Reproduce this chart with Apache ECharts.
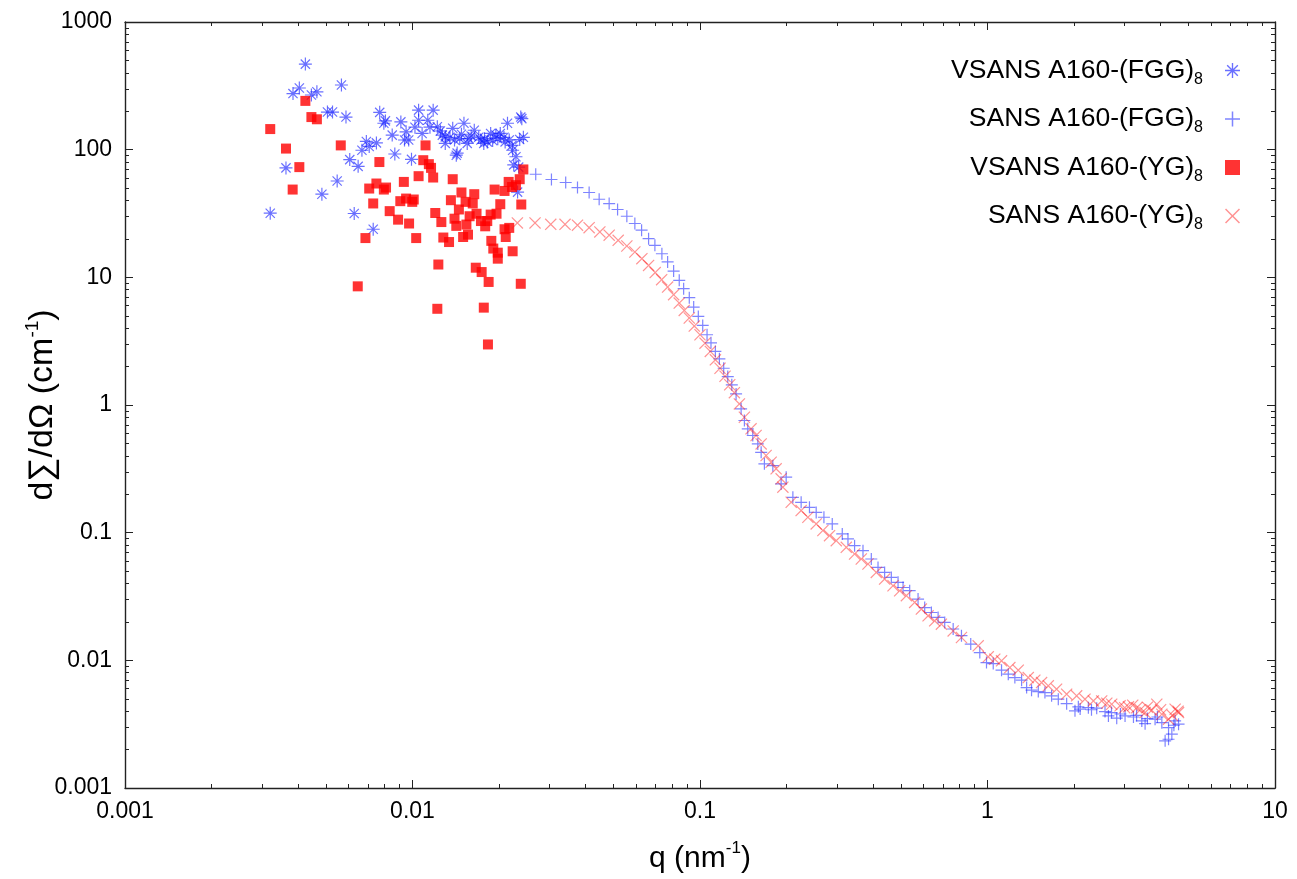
<!DOCTYPE html>
<html><head><meta charset="utf-8">
<script src="https://cdn.jsdelivr.net/npm/echarts@6/dist/echarts.min.js"></script>
<style>html,body{margin:0;padding:0;background:#fff}#c{width:1297px;height:879px}</style>
</head><body><div id="c"></div>
<script>
// ---- tick values ----
const xMajorTicks = [0.001, 0.01, 0.1, 1, 10];
const xMinorTicks = [0.002,0.003,0.004,0.005,0.006,0.007,0.008,0.009,
  0.02,0.03,0.04,0.05,0.06,0.07,0.08,0.09,
  0.2,0.3,0.4,0.5,0.6,0.7,0.8,0.9,
  2,3,4,5,6,7,8,9];
const yMajorTicks = [0.001, 0.01, 0.1, 1, 10, 100, 1000];
const yMinorTicks = [0.002,0.003,0.004,0.005,0.006,0.007,0.008,0.009,
  0.02,0.03,0.04,0.05,0.06,0.07,0.08,0.09,
  0.2,0.3,0.4,0.5,0.6,0.7,0.8,0.9,
  2,3,4,5,6,7,8,9,
  20,30,40,50,60,70,80,90,
  200,300,400,500,600,700,800,900];

// ---- series data ----
const vsansFggQ = [0.00424,0.00384,0.00404,0.00445,0.00465,0.00566,0.00506,0.00527,0.00587,0.00363,
  0.00320,0.00484,0.00547,0.00605,0.00647,0.00627,0.00730,0.00667,0.00691,0.00707,
  0.00749,0.00769,0.00805,0.00795,0.00868,0.0085,0.00911,0.00938,0.0097,0.0095,
  0.00992,0.0102,0.0105,0.0108,0.0113,0.0118,0.0122,0.0127,0.0130,0.0138,
  0.0142,0.0146,0.0151,0.0157,0.0164,0.0173,0.0177,0.0182,0.0187,0.0195,
  0.0202,0.0214,0.0217,0.0223,0.0229,0.0225,0.0238,0.0243,0.0232,0.0234,
  0.0130,0.0140,0.0143,0.0105,0.0115,0.0125,0.0135,0.0148,0.0155,0.0160,
  0.0170,0.0178,0.0190,0.0198,0.0208,0.0210,0.0222,0.0240,0.0236];
const vsansFggI = [468,275,304,268,284,321,197,197,180,72,
  31.8,44.8,56.8,83.6,74,31.6,23.8,99,116,106,
  113,196,168,161,92.5,130,165,119,119,138,
  84,150,204,134,170,204,151,130,112,147,
  90.5,122,161,122,142,119,112,115,134,130,
  134,161,119,99,88,76,180,125,46.5,73,
  126,119,94,170,150,140,125,132,112,128,
  125,122,118,122,125,115,108,175,120];

const sansFggQ = [0.02683,0.03043,0.03411,0.03749,0.04115,0.04459,0.04831,0.05168,0.05566,0.05935,
  0.06264,0.06625,0.06968,0.0737,0.07716,0.08096,0.08468,0.08772,0.09177,0.09506,
  0.09865,0.1022,0.1058,0.1092,0.1131,0.1168,0.1209,0.1249,0.1290,0.1335,
  0.1390,0.1427,0.1466,0.1526,0.1589,0.1632,0.1675,0.1792,0.1915,0.1994,
  0.2104,0.2248,0.2403,0.2536,0.2698,0.2884,0.3125,0.3271,0.3449,0.3689,
  0.3943,0.4161,0.4387,0.4629,0.4885,0.5085,0.5362,0.5734,0.6047,0.6380,
  0.6733,0.7099,0.7596,0.8118,0.8744,0.9402,0.992,1.047,1.119,1.181,
  1.245,1.314,1.368,1.423,1.502,1.584,1.671,1.763,1.885,2.015,
  2.070,2.243,2.398,2.563,2.634,2.815,3.009,3.219,3.441,3.533,
  3.827,4.040,4.263,4.377,4.263,4.148,4.494,4.619,
  2.1,2.3,2.7,2.9,3.3,3.6,3.9,4.45];
const sansFggI = [64.2,58.4,55.3,50.5,46.2,40.9,37.8,34.0,30.1,26.4,
  23.4,20.1,17.8,15.3,13.2,11.2,9.47,8.15,6.93,5.85,
  4.94,4.20,3.55,3.07,2.63,2.30,1.94,1.67,1.44,1.22,
  0.934,0.756,0.651,0.577,0.496,0.426,0.346,0.335,0.241,0.272,
  0.189,0.173,0.158,0.144,0.132,0.117,0.0977,0.0893,0.0791,0.0723,
  0.0622,0.0534,0.0488,0.0446,0.0408,0.0372,0.0351,0.0302,0.0259,0.0237,
  0.0217,0.0198,0.0176,0.0156,0.0134,0.0115,0.00961,0.00944,0.00838,0.00779,
  0.00733,0.00699,0.00612,0.00584,0.00569,0.00559,0.00527,0.00496,0.00458,0.00402,
  0.00432,0.00426,0.00422,0.00397,0.00367,0.00352,0.00367,0.00360,0.00335,0.00319,
  0.00346,0.00325,0.00297,0.00264,0.00241,0.00234,0.00335,0.00316,
  0.00415,0.0041,0.0039,0.0038,0.0037,0.0035,0.0036,0.0031];

const vsansYgQ = [0.00424,0.00445,0.00465,0.0032,0.00363,0.00404,0.00383,0.00563,0.00767,0.00645,
  0.00686,0.00707,0.00749,0.00795,0.00809,0.0073,0.00833,0.00891,0.00973,0.0103,
  0.00933,0.00907,0.0095,0.00998,0.0101,0.0105,0.0111,0.0109,0.0114,0.0116,
  0.0118,0.0120,0.0126,0.0128,0.0134,0.0123,0.0122,0.0138,0.0136,0.0148,
  0.0145,0.0140,0.0142,0.0153,0.0162,0.0164,0.0158,0.0154,0.0167,0.0173,
  0.0179,0.0182,0.0150,0.0156,0.0166,0.0174,0.0184,0.0177,0.0183,0.0188,
  0.0191,0.0198,0.0198,0.0187,0.0196,0.0202,0.0193,0.0209,0.0216,0.0222,
  0.0229,0.0236,0.0243,0.0209,0.0217,0.0211,0.0223,0.0239,0.0238];
const vsansYgI = [241,180,173,145,102,73,48.7,108,80,8.5,
  20.3,49.6,54.3,48.7,50.5,37.9,33,28.3,26.4,20.3,
  55.9,39.5,41.4,39,40.7,62,108,82.7,77,72,
  60.5,31.9,27.1,20.5,18.9,12.6,5.67,58.7,40.2,46.2,
  34,28.8,25.3,39,37.9,44.8,30.1,25.9,31.5,27.6,
  25.1,27.6,20.7,21.6,11.9,11.0,9.2,5.79,2.98,19.3,
  16.8,15.6,14.0,31,31.5,37.4,48.7,47.5,55.9,51,
  52.7,58.7,70,23.8,24.4,20.7,16.0,37.2,8.9];

const sansYgQ = [0.02316,0.02668,0.03026,0.03393,0.03749,0.04115,0.04484,0.04831,0.05193,0.05566,
  0.05935,0.06279,0.06625,0.06985,0.07355,0.07716,0.08096,0.08468,0.08814,0.09177,
  0.09552,0.1000,0.1041,0.1086,0.1131,0.1174,0.1222,0.1269,0.1317,0.1371,
  0.1427,0.1505,0.1567,0.1632,0.1698,0.1768,0.1840,0.1915,0.1942,0.2076,
  0.2248,0.2373,0.2536,0.2676,0.2822,0.2978,0.3227,0.3449,0.3639,0.3840,
  0.4104,0.4387,0.4693,0.4949,0.5222,0.5581,0.5888,0.6214,0.6552,0.6913,
  0.7596,0.8118,0.9282,1.006,1.060,1.119,1.196,1.279,1.386,1.461,
  1.542,1.627,1.739,1.885,2.042,2.183,2.335,2.496,2.704,2.891,
  3.092,3.305,3.533,3.727,3.880,4.040,4.263,4.494,4.619,
  2.6,3.0,3.2,3.4,3.6,4.0,4.4,4.6];
const sansYgI = [26.7,26.7,26.0,26.0,25.6,24.5,22.7,21.4,19.5,17.6,
  15.8,14.0,12.4,10.9,9.59,8.39,7.32,6.29,5.51,4.80,
  4.15,3.55,3.05,2.63,2.26,1.94,1.68,1.44,1.25,1.02,
  0.802,0.651,0.577,0.496,0.402,0.356,0.316,0.264,0.227,0.173,
  0.149,0.132,0.117,0.104,0.0947,0.0866,0.0767,0.0681,0.0622,0.0568,
  0.0488,0.0433,0.0384,0.0351,0.0321,0.0284,0.0252,0.0223,0.0204,0.0192,
  0.0170,0.0151,0.0130,0.01065,0.01022,0.00991,0.00878,0.00838,0.00733,0.00699,
  0.00670,0.00631,0.00594,0.00543,0.00527,0.00496,0.00481,0.00481,0.00453,0.00440,
  0.00432,0.00426,0.00390,0.00407,0.00453,0.00378,0.00346,0.00414,0.00390,
  0.00462,0.00425,0.00445,0.0041,0.0043,0.0041,0.0037,0.0040];

const seriesNames = ['VSANS A160-(FGG)', 'SANS A160-(FGG)', 'VSANS A160-(YG)', 'SANS A160-(YG)'];
const seriesSub = '8';

function zip(a, b) { return a.map((v, i) => [v, b[i]]); }

const FONT = 'Liberation Sans, Arial, sans-serif';
const PLUS = 'path://M9.0,0H11.0V9.0H20V11.0H11.0V20H9.0V11.0H0V9.0H9.0Z';
const CROSS = 'path://M1.4,0L10,8.6L18.6,0L20,1.4L11.4,10L20,18.6L18.6,20L10,11.4L1.4,20L0,18.6L8.6,10L0,1.4Z';
const STAR = 'path://M0,9.1H20V10.9H0Z M9.1,0H10.9V20H9.1Z M3.54,2.26L17.74,16.46L16.46,17.74L2.26,3.54Z M16.46,2.26L17.74,3.54L3.54,17.74L2.26,16.46Z';

function fmt(v) { return String(+Number(v).toPrecision(3)); }

function xAx(pos, minor, labels) {
  return {
    type: 'log', logBase: 10, min: 0.001, max: 10, position: pos,
    axisLine: { show: !minor, onZero: false, lineStyle: { color: '#222', width: 1.4 } },
    axisTick: { show: true, inside: true, length: minor ? 4 : 8,
      lineStyle: { color: '#222', width: 1 }, customValues: minor ? xMinorTicks : xMajorTicks },
    axisLabel: { show: labels, customValues: xMajorTicks, formatter: fmt, margin: 12,
      fontFamily: FONT, fontSize: 23, color: '#000' },
    splitLine: { show: false }, minorTick: { show: false }
  };
}
function yAx(pos, minor, labels) {
  return {
    type: 'log', logBase: 10, min: 0.001, max: 1000, position: pos,
    axisLine: { show: !minor, onZero: false, lineStyle: { color: '#222', width: 1.4 } },
    axisTick: { show: true, inside: true, length: minor ? 4 : 8,
      lineStyle: { color: '#222', width: 1 }, customValues: minor ? yMinorTicks : yMajorTicks },
    axisLabel: { show: labels, customValues: yMajorTicks, formatter: fmt, margin: 13,
      fontFamily: FONT, fontSize: 23, color: '#000' },
    splitLine: { show: false }, minorTick: { show: false }
  };
}

const xAxes = [xAx('bottom', false, true), xAx('bottom', true, false), xAx('top', false, false), xAx('top', true, false)];
xAxes[0].name = '{a|q (nm}{s|-1}{a|)}';
xAxes[0].nameLocation = 'middle';
xAxes[0].nameGap = 52;
xAxes[0].nameTextStyle = { fontFamily: FONT, color: '#000', rich: {
  a: { fontFamily: FONT, fontSize: 30, lineHeight: 38, color: '#000' },
  s: { fontFamily: FONT, fontSize: 17, verticalAlign: 'top', color: '#000' } } };

const yAxes = [yAx('left', false, true), yAx('left', true, false), yAx('right', false, false), yAx('right', true, false)];
yAxes[0].name = '{a|d\u2211/d\u03A9 (cm}{s|-1}{a|)}';
yAxes[0].nameLocation = 'middle';
yAxes[0].nameRotate = 90;
yAxes[0].nameGap = 62;
yAxes[0].nameMoveOverlap = false;
yAxes[0].nameTextStyle = { fontFamily: FONT, color: '#000', rich: {
  a: { fontFamily: FONT, fontSize: 34, lineHeight: 40, color: '#000' },
  s: { fontFamily: FONT, fontSize: 19, verticalAlign: 'top', color: '#000' } } };

const chart = echarts.init(document.getElementById('c'), null, { renderer: 'canvas' });
chart.setOption({
  animation: false,
  backgroundColor: '#fff',
  grid: { left: 125, right: 22, top: 22, bottom: 91, containLabel: false },
  xAxis: xAxes,
  yAxis: yAxes,
  legend: {
    orient: 'vertical', right: 52, top: 52, align: 'right',
    itemWidth: 15, itemHeight: 15, itemGap: 18,
    data: seriesNames,
    formatter: n => '{a|' + n + '}{s|' + seriesSub + '}',
    textStyle: { fontFamily: FONT, color: '#000', padding: [0, 17, 0, 0], rich: {
      a: { fontFamily: FONT, fontSize: 26.5, lineHeight: 34, color: '#000' },
      s: { fontFamily: FONT, fontSize: 16, verticalAlign: 'bottom', color: '#000' } } }
  },
  series: [
    { name: seriesNames[0], type: 'scatter', data: zip(vsansFggQ, vsansFggI), symbol: STAR, symbolSize: 13,
      itemStyle: { color: 'rgba(20,30,255,0.8)' } },
    { name: seriesNames[1], type: 'scatter', data: zip(sansFggQ, sansFggI), symbol: PLUS, symbolSize: 12,
      itemStyle: { color: 'rgba(25,35,255,0.7)' } },
    { name: seriesNames[2], type: 'scatter', data: zip(vsansYgQ, vsansYgI), symbol: 'rect', symbolSize: 10,
      itemStyle: { color: '#ff0000' } },
    { name: seriesNames[3], type: 'scatter', data: zip(sansYgQ, sansYgI), symbol: CROSS, symbolSize: 12,
      itemStyle: { color: 'rgba(255,30,30,0.6)' } }
  ]
});
</script>
</body></html>
